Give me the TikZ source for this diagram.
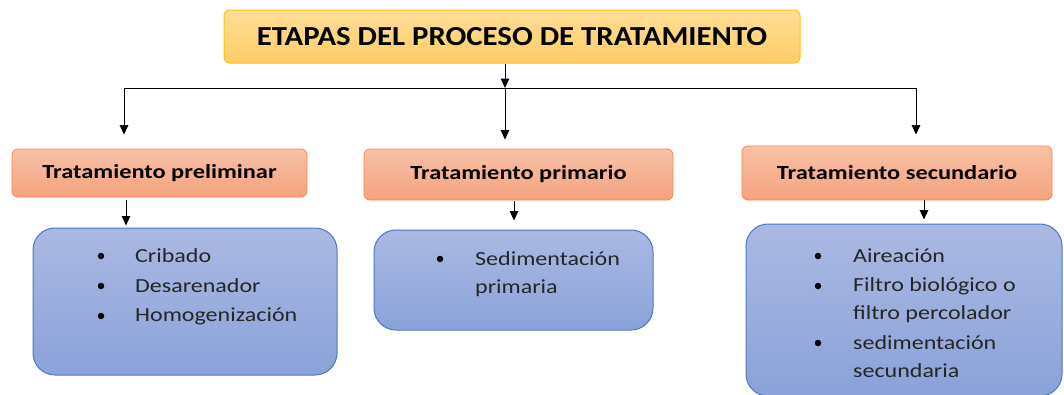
\documentclass[tikz,border=0pt]{standalone}
\usepackage{fontspec}
\setmainfont{Carlito}
\newfontfamily\ftit[FakeStretch=1.12]{Carlito}
\newfontfamily\fhd[FakeStretch=1.22]{Carlito}
\newfontfamily\fit[FakeStretch=1.2]{Carlito}
\usetikzlibrary{arrows.meta,calc}
\definecolor{titfill1}{HTML}{FFDE98}
\definecolor{titfill2}{HTML}{FFCC66}
\definecolor{titdraw}{HTML}{FFC20E}
\definecolor{hdfill1}{HTML}{F8C2A6}
\definecolor{hdfill2}{HTML}{F4A27E}
\definecolor{hddraw}{HTML}{F08A50}
\definecolor{bxfill1}{HTML}{ABB9E2}
\definecolor{bxfill2}{HTML}{8AA2DA}
\definecolor{bxdraw}{HTML}{4A78C8}
\definecolor{txt}{HTML}{262626}
\begin{document}
\begin{tikzpicture}[x=1pt,y=-1pt,
  titbox/.style={draw=titdraw,line width=1pt,rounded corners=6pt,top color=titfill1,bottom color=titfill2,font=\ftit\fontsize{27.5}{30}\selectfont\bfseries,inner sep=0pt},
  hdbox/.style={draw=hddraw,line width=0.8pt,rounded corners=6pt,top color=hdfill1,bottom color=hdfill2,font=\fhd\fontsize{20}{24}\selectfont\bfseries,inner sep=0pt},
  listbox/.style={draw=bxdraw,line width=1pt,rounded corners=22pt,top color=bxfill1,bottom color=bxfill2,inner sep=0pt},
  item/.style={anchor=west,text=txt,font=\fit\fontsize{20}{24}\selectfont,inner sep=0pt},
  dot/.style={circle,fill=black,inner sep=0pt,minimum size=6.5pt},
  arr/.style={-{Triangle[width=8.5pt,length=9.5pt]},line width=1pt},
  ln/.style={line width=1pt}]
\useasboundingbox (0,0) rectangle (1064,394);
\fill[white] (0,0) rectangle (1064,394);

\node[titbox,minimum width=576pt,minimum height=53pt] (tit) at (512,36.5) {ETAPAS DEL PROCESO DE TRATAMIENTO};

\node[hdbox,minimum width=295pt,minimum height=48pt] (pre) at (159.5,173) {Tratamiento preliminar};
\node[hdbox,minimum width=309pt,minimum height=51pt] (pri) at (518.5,174.5) {Tratamiento primario};
\node[hdbox,minimum width=310pt,minimum height=54pt] (sec) at (897,173) {Tratamiento secundario};

\node[listbox,minimum width=304pt,minimum height=147pt] (b1) at (185,301.5) {};
\node[listbox,minimum width=279pt,minimum height=100pt] (b2) at (513.5,280) {};
\node[listbox,minimum width=316pt,minimum height=172pt] (b3) at (904,310) {};

% junction
\coordinate (j) at (505,88);
\coordinate (jl) at (124,88);
\coordinate (jr) at (916,88);
\draw[arr] (tit.south -| j) -- (j);
\draw[ln] (jl) -- (jr);
\draw[arr,shorten >=14pt] (jl) -- (jl |- pre.north);
\draw[arr,shorten >=9pt] (j) -- (j |- pri.north);
\draw[arr,shorten >=11pt] (jr) -- (jr |- sec.north);

\coordinate (a1) at (126,0);
\coordinate (a2) at (514,0);
\coordinate (a3) at (924,0);
\draw[arr,shorten <=3pt,shorten >=2pt] (a1 |- pre.south) -- (a1 |- b1.north);
\draw[arr,shorten <=1pt,shorten >=9pt] (a2 |- pri.south) -- (a2 |- b2.north);
\draw[arr,shorten <=0pt,shorten >=4pt] (a3 |- sec.south) -- (a3 |- b3.north);

% box 1
\node[dot] (d11) at (101,256) {};
\node[dot] (d12) at (101,286) {};
\node[dot] (d13) at (101,316) {};
\node[item] (t11) at (135,256) {Cribado};
\node[item] (t12) at (135,286) {Desarenador};
\node[item] (t13) at (135,316) {Homogenización};

% box 2
\node[dot] (d21) at (440,259) {};
\node[item] (t21) at (475,259) {Sedimentación};
\node[item] (t22) at (475,288) {primaria};

% box 3
\node[dot] (d31) at (818,256) {};
\node[dot] (d32) at (818,286) {};
\node[dot] (d33) at (818,343) {};
\node[item] (t31) at (853,256) {Aireación};
\node[item] (t32) at (853,286) {Filtro biológico o};
\node[item] (t33) at (853,314) {filtro percolador};
\node[item] (t34) at (853,343) {sedimentación};
\node[item] (t35) at (853,371) {secundaria};
\end{tikzpicture}
\end{document}
